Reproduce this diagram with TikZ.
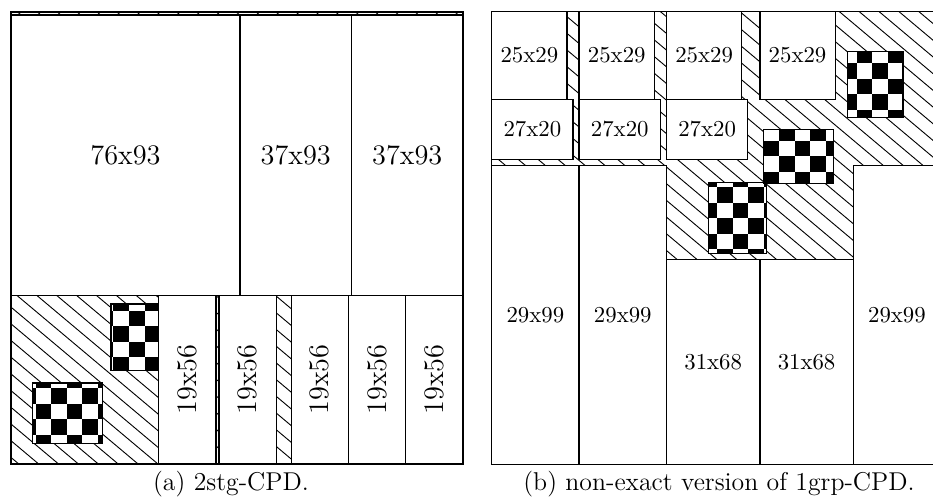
\documentclass[tikz,border=0pt]{standalone}
\tikzset{
  itemline/.style={draw=black,line width=0.55pt},
  hatchline/.style={draw=black,line width=0.4pt},
  itembox/.style={itemline,fill=white},
  bigtext/.style={font=\fontsize{12.4}{14}\selectfont,inner sep=0pt},
  smalltext/.style={font=\fontsize{10}{12}\selectfont,inner sep=0pt},
  captext/.style={font=\fontsize{11.3}{13}\selectfont,inner sep=0pt,anchor=base}
}
% #1 x1, #2 y1, #3 x2, #4 y2, #5 name, #6 label, #7 style
\newcommand\piece[7]{%
  \draw[itembox] (#1,#2) rectangle (#3,#4);
  \node[#7] (#5) at ({(#1+#3)/2},{(#2+#4)/2}) {#6};}
% checkerboard: #1 x1, #2 y1, #3 x2, #4 y2, #5 X0, #6 Y0, #7 cell
\newcommand\checkerbox[7]{%
  \begin{scope}
    \clip (#1,#2) rectangle (#3,#4);
    \fill[white] (#1,#2) rectangle (#3,#4);
    \pgfmathtruncatemacro\cia{floor((#1-#5)/#7)}%
    \pgfmathtruncatemacro\cib{floor((#3-#5)/#7)}%
    \pgfmathtruncatemacro\cja{floor((#2-#6)/#7)}%
    \pgfmathtruncatemacro\cjb{floor((#4-#6)/#7)}%
    \foreach \ci in {\cia,...,\cib}{%
      \foreach \cj in {\cja,...,\cjb}{%
        \pgfmathtruncatemacro\cpar{mod(\ci+\cj+100,2)}%
        \ifnum\cpar=1\relax
          \fill[black] ({#5+\ci*#7},{#6+\cj*#7}) rectangle ({#5+(\ci+1)*#7},{#6+(\cj+1)*#7});
        \fi}}
  \end{scope}
  \draw[itemline] (#1,#2) rectangle (#3,#4);}
\begin{document}
\begin{tikzpicture}[x=0.4386pt,y=-0.4386pt]
\useasboundingbox (0,0) rectangle (933,499);
\clip (0,0) rectangle (933,499);
% ---------- hatching ----------
\begin{scope}
  \clip (11,12.05) rectangle (462.95,464);
  \foreach \k in {-30,...,30}
    \draw[hatchline] (0,{14+\k*16.7}) -- (950,{14+\k*16.7+0.84*950});
\end{scope}
\begin{scope}
  \clip (491.7,11.75) rectangle (944.3,464.3);
  \foreach \k in {-50,...,5}
    \draw[hatchline] (0,{8+\k*16.7}) -- (950,{8+\k*16.7+0.84*950});
\end{scope}
% ---------- left panel: 2stg-CPD ----------
\begin{scope}[shift={(11,464)},x=1.3215pt,y=1.3215pt]
  \draw[itemline] (0,0) rectangle (150,150);
  \piece{0}{56}{76}{149}{a1}{76x93}{bigtext}
  \piece{76}{56}{113}{149}{a2}{37x93}{bigtext}
  \piece{113}{56}{150}{149}{a3}{37x93}{bigtext}
  \piece{49}{0}{68}{56}{a4}{19x56}{bigtext,rotate=90}
  \piece{69}{0}{88}{56}{a5}{19x56}{bigtext,rotate=90}
  \piece{93}{0}{112}{56}{a6}{19x56}{bigtext,rotate=90}
  \piece{112}{0}{131}{56}{a7}{19x56}{bigtext,rotate=90}
  \piece{131}{0}{150}{56}{a8}{19x56}{bigtext,rotate=90}
\end{scope}
\checkerbox{32.3}{383}{102.3}{443.3}{35.7}{388.3}{15.55}
\checkerbox{111}{304}{158.6}{370.7}{35.7}{388.3}{15.55}
% ---------- right panel: 1grp-CPD ----------
\begin{scope}[shift={(491.7,464.3)},x=1.3215pt,y=1.3233pt]
  \draw[itemline] (0,0) rectangle (150,150);
  \piece{0}{121}{25}{150}{b1}{25x29}{smalltext}
  \piece{29}{121}{54}{150}{b2}{25x29}{smalltext}
  \piece{58}{121}{83}{150}{b3}{25x29}{smalltext}
  \piece{89}{121}{114}{150}{b4}{25x29}{smalltext}
  \piece{0}{101}{27}{121}{b5}{27x20}{smalltext}
  \piece{29}{101}{56}{121}{b6}{27x20}{smalltext}
  \piece{58}{101}{85}{121}{b7}{27x20}{smalltext}
  \piece{0}{0}{29}{99}{b8}{29x99}{smalltext}
  \piece{29}{0}{58}{99}{b9}{29x99}{smalltext}
  \piece{58}{0}{89}{68}{b10}{31x68}{smalltext}
  \piece{89}{0}{120}{68}{b11}{31x68}{smalltext}
  \piece{120}{0}{149}{99}{b12}{29x99}{smalltext}
\end{scope}
\checkerbox{708.7}{182.7}{766.7}{253.3}{779.3}{141}{15.5}
\checkerbox{763.3}{129.3}{833.3}{183.7}{779.3}{141}{15.5}
\checkerbox{847.7}{51.3}{903}{117.3}{779.3}{141}{15.5}
% ---------- captions ----------
\node[captext] (capa) at (231,490) {(a) 2stg-CPD.};
\node[captext] (capb) at (719,490) {(b) non-exact version of 1grp-CPD.};
\end{tikzpicture}
\end{document}
